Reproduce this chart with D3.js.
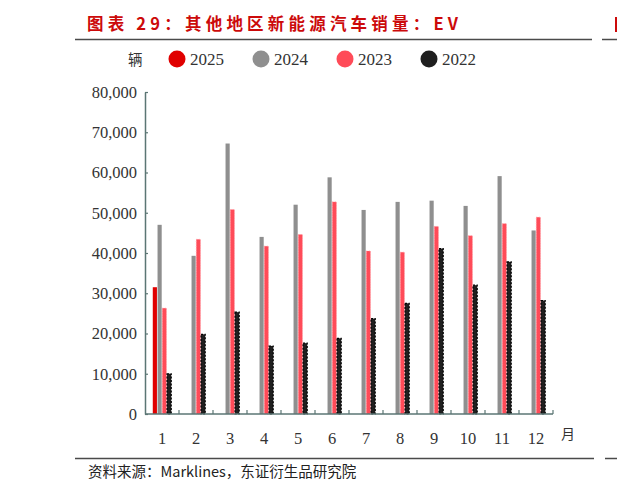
<!DOCTYPE html>
<html>
<head>
<meta charset="utf-8">
<script src="https://cdn.jsdelivr.net/npm/d3@7/dist/d3.min.js"></script>
<style>
  html, body { margin: 0; padding: 0; background: #fff; }
  svg { display: block; }
</style>
</head>
<body>
<div id="chart"></div>
<script>
// data (units: vehicles)
var months = ["1", "2", "3", "4", "5", "6", "7", "8", "9", "10", "11", "12"];
var seriesNames = ["2025", "2024", "2023", "2022"];
var v2025 = [31500, null, null, null, null, null, null, null, null, null, null, null];
var v2024 = [47000, 39300, 67200, 44000, 52000, 58800, 50700, 52700, 53000, 51700, 59100, 45600];
var v2023 = [26300, 43400, 50800, 41700, 44600, 52700, 40500, 40200, 46600, 44300, 47300, 48900];
var v2022 = [10000, 19800, 25300, 16900, 17600, 18800, 23700, 27500, 41100, 32000, 37800, 28200];
var yTicks = [0, 10000, 20000, 30000, 40000, 50000, 60000, 70000, 80000];

var drawChart = function() {

    // settings
    const width = 617, height = 491;
    var serif = '"Liberation Serif", "DejaVu Serif", serif';
    var cjk = '"Noto Sans CJK SC", "Noto Sans", sans-serif';
    var axisColor = '#5b7674';
    var colors = {"2025": "#e00000", "2024": "#8f8f8f", "2023": "#ff4b58", "2022": "#1f1f1f"};
    var strokes = {"2025": "none", "2024": "none", "2023": "#ff9aa2", "2022": "#000"};

    var valuesBySeries = {"2025": v2025, "2024": v2024, "2023": v2023, "2022": v2022};

    var svg = d3.select('#chart')
        .append('svg')
        .attr('width', width)
        .attr('height', height);

    // title + rules
    svg.append('text')
        .attr('x', 87).attr('y', 30)
        .attr('fill', '#cc0a0a')
        .attr('font-family', cjk)
        .attr('font-weight', 'bold')
        .attr('font-size', 16.5)
        .attr('textLength', 371)
        .attr('lengthAdjust', 'spacing')
        .text('图表 29：其他地区新能源汽车销量：EV');
    // edge of the neighbouring panel's title
    svg.append('rect')
        .attr('x', 615).attr('y', 17)
        .attr('width', 2).attr('height', 15)
        .attr('fill', '#cc0a0a');

    var rule = function(y, x1, x2) {
        svg.append('line')
            .attr('x1', x1).attr('x2', x2)
            .attr('y1', y).attr('y2', y)
            .attr('stroke', '#4a4a4a')
            .attr('stroke-width', 1.5);
    };
    rule(39.5, 75, 592);
    rule(39.5, 602, 617);
    rule(458.5, 75, 594);
    rule(458.5, 605, 617);

    svg.append('text')
        .attr('x', 88).attr('y', 477)
        .attr('fill', '#222')
        .attr('font-family', cjk)
        .attr('font-size', 14.5)
        .text('资料来源：Marklines，东证衍生品研究院');

    // scales
    var x = d3.scaleBand()
        .domain(months)
        .range([145, 553])
        .paddingInner(0);
    var bw = x.bandwidth();
    var x1 = d3.scaleBand()
        .domain(seriesNames)
        .range([bw * 0.22, bw * 0.78]);
    var y = d3.scaleLinear()
        .domain([0, 80000])
        .range([414, 92]);

    // bars
    seriesNames.forEach(function(s) {
        var data = valuesBySeries[s].map(function(v, i) { return {month: months[i], val: v}; })
            .filter(function(d) { return d.val != null; });
        svg.append('g').selectAll('rect')
            .data(data)
            .join('rect')
            .attr('x', d => x(d.month) + x1(s) + 0.3)
            .attr('y', d => y(d.val))
            .attr('width', x1.bandwidth() - 0.6)
            .attr('height', d => y(0) - y(d.val))
            .attr('fill', colors[s])
            .attr('stroke', strokes[s])
            .attr('stroke-width', s == "2022" ? 1.2 : 0.8)
            .attr('stroke-dasharray', s == "2022" ? '2,1.5' : '1,1.5');
    });

    // y axis
    var yAxis = svg.append('g')
        .attr('transform', 'translate(145,0)')
        .call(d3.axisLeft(y).tickValues(yTicks).tickSizeInner(-3).tickSizeOuter(0)
            .tickPadding(8).tickFormat(d3.format(',')));
    yAxis.attr('font-family', serif);
    yAxis.select('.domain').attr('stroke', axisColor).attr('stroke-width', 1.5);
    yAxis.selectAll('.tick line').attr('stroke', axisColor).attr('stroke-width', 1.2);
    yAxis.selectAll('.tick text')
        .attr('fill', '#333')
        .attr('font-family', serif)
        .attr('font-size', 16.5);

    // x axis: ticks at band boundaries, pointing up
    svg.append('line')
        .attr('x1', 145).attr('x2', 553)
        .attr('y1', y(0)).attr('y2', y(0))
        .attr('stroke', axisColor).attr('stroke-width', 1.5);
    svg.append('g').selectAll('line')
        .data(months)
        .join('line')
        .attr('x1', d => x(d) + bw).attr('x2', d => x(d) + bw)
        .attr('y1', y(0)).attr('y2', y(0) - 4)
        .attr('stroke', axisColor).attr('stroke-width', 1.2);
    svg.append('g').selectAll('text')
        .data(months)
        .join('text')
        .attr('x', d => x(d) + bw / 2)
        .attr('y', 444)
        .attr('text-anchor', 'middle')
        .attr('fill', '#333')
        .attr('font-family', serif)
        .attr('font-size', 16.5)
        .text(d => d);
    svg.append('text')
        .attr('x', 561).attr('y', 439)
        .attr('fill', '#333')
        .attr('font-family', cjk)
        .attr('font-size', 14)
        .text('月');

    // legend
    svg.append('text')
        .attr('x', 128).attr('y', 65)
        .attr('fill', '#333')
        .attr('font-family', cjk)
        .attr('font-size', 14.5)
        .text('辆');
    var legend = svg.append('g').selectAll('g')
        .data(seriesNames)
        .join('g')
        .attr('transform', (d, i) => 'translate(' + (177 + i * 84) + ',59)');
    legend.append('circle')
        .attr('r', 8.5)
        .attr('fill', d => colors[d]);
    legend.append('text')
        .attr('x', 13).attr('y', 6)
        .attr('fill', '#333')
        .attr('font-family', serif)
        .attr('font-size', 17)
        .text(d => d);
};

window.addEventListener("load", drawChart);
</script>
</body>
</html>
